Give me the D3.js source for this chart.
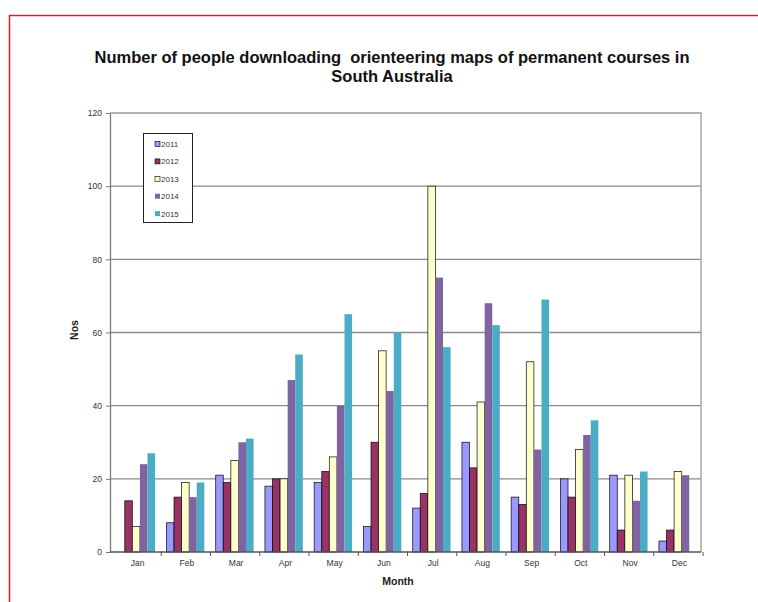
<!DOCTYPE html>
<html><head><meta charset="utf-8">
<script src="https://cdn.jsdelivr.net/npm/d3@7"></script>
<style>body{margin:0;background:#fff;} svg{display:block;}</style>
</head><body>
<svg id="c" width="758" height="602"></svg>
<script>
const months = ["Jan","Feb","Mar","Apr","May","Jun","Jul","Aug","Sep","Oct","Nov","Dec"];
const years = ["2011","2012","2013","2014","2015"];
const v2011 = [0, 8, 21, 18, 19, 7, 12, 30, 15, 20, 21, 3];
const v2012 = [14, 15, 19, 20, 22, 30, 16, 23, 13, 15, 6, 6];
const v2013 = [7, 19, 25, 20, 26, 55, 100, 41, 52, 28, 21, 22];
const v2014 = [24, 15, 30, 47, 40, 44, 75, 68, 28, 32, 14, 21];
const v2015 = [27, 19, 31, 54, 65, 60, 56, 62, 69, 36, 22, 0];
const yTicks = [0, 20, 40, 60, 80, 100, 120];
const seriesValues = [v2011, v2012, v2013, v2014, v2015];
const colors = ["#9999FF", "#993366", "#FFFFCC", "#8064A2", "#4BACC6"];
const strokes = ["#000", "#000", "#000", "none", "none"];

const svg = d3.select("#c");
const font = "Arial, 'Liberation Sans', sans-serif";

// red outer border
svg.append("rect").attr("x", 9.5).attr("y", 15.5).attr("width", 800).attr("height", 700)
  .attr("fill", "none").attr("stroke", "#e8191f").attr("stroke-width", 1.5);

const L = 110, R = 701, T = 113, B = 552;
const x = d3.scaleBand().domain(months).range([L, R]).paddingInner(0).paddingOuter(0);
const y = d3.scaleLinear().domain([0, 120]).range([B, T]);

// gridlines
svg.append("g").selectAll("line").data(yTicks.filter(d => d > 0 && d < 120)).join("line")
  .attr("x1", L).attr("x2", R).attr("y1", d => y(d)).attr("y2", d => y(d))
  .attr("stroke", "#8a8a8a").attr("stroke-width", 1.3);

// plot border top/right
svg.append("path").attr("d", `M${L},${T}H${R}V${B}`).attr("fill", "none")
  .attr("stroke", "#9a9a9a").attr("stroke-width", 1.3);

// bars
const bw = x.bandwidth() / 6.5;
years.forEach((yr, i) => {
  svg.append("g").selectAll("rect").data(seriesValues[i]).join("rect")
    .attr("x", (d, j) => x(months[j]) + bw * 0.75 + bw * i + 1.5)
    .attr("y", d => y(d))
    .attr("width", bw)
    .attr("height", d => B - y(d))
    .attr("fill", colors[i])
    .attr("stroke", d => d > 0 ? strokes[i] : "none")
    .attr("stroke-width", 0.8)
    .attr("stroke-opacity", 0.85);
});

// y axis
const ya = svg.append("g").attr("transform", `translate(${L},0)`)
  .call(d3.axisLeft(y).tickValues(yTicks).tickSize(4).tickSizeOuter(0));
ya.select(".domain").attr("stroke", "#7a7a7a").attr("stroke-width", 1.3);
ya.selectAll(".tick line").attr("stroke", "#7a7a7a");
ya.selectAll("text").attr("font-family", font).attr("font-size", 8.5).attr("fill", "#333").attr("dx", -1);

// x axis
const xa = svg.append("g").attr("transform", `translate(0,${B})`);
xa.append("line").attr("x1", L).attr("x2", R).attr("stroke", "#555").attr("stroke-width", 1.3);
xa.selectAll("line.tk").data(months.slice(1).concat(["end"])).join("line").attr("class", "tk")
  .attr("x1", (d, j) => L + x.step() * (j + 1) + 2).attr("x2", (d, j) => L + x.step() * (j + 1) + 2)
  .attr("y1", 0).attr("y2", 4).attr("stroke", "#555");
xa.selectAll("text").data(months).join("text")
  .attr("x", d => x(d) + x.bandwidth() / 2 + 3).attr("y", 14)
  .attr("text-anchor", "middle").attr("font-family", font).attr("font-size", 8.5).attr("fill", "#333")
  .text(d => d);

// axis titles
svg.append("text").attr("x", 398).attr("y", 585).attr("text-anchor", "middle")
  .attr("font-family", font).attr("font-size", 10.5).attr("font-weight", "bold").attr("fill", "#222").text("Month");
svg.append("text").attr("transform", "translate(78,330) rotate(-90)").attr("text-anchor", "middle")
  .attr("font-family", font).attr("font-size", 10.5).attr("font-weight", "bold").attr("fill", "#222").text("Nos");

// title
const title = svg.append("text").attr("text-anchor", "middle").attr("font-family", font)
  .attr("font-size", 16.5).attr("font-weight", "bold").attr("fill", "#111");
title.append("tspan").attr("x", 392).attr("y", 63).text("Number of people downloading  orienteering maps of permanent courses in").attr("xml:space","preserve");
title.append("tspan").attr("x", 392).attr("y", 82).text("South Australia");

// legend
const lg = svg.append("g");
lg.append("rect").attr("x", 143.5).attr("y", 133.5).attr("width", 49).attr("height", 89)
  .attr("fill", "#fff").attr("stroke", "#222").attr("stroke-width", 1);
years.forEach((yr, i) => {
  const cy = 144 + i * 17.4;
  lg.append("rect").attr("x", 155).attr("y", cy - 2.5).attr("width", 5).attr("height", 5)
    .attr("fill", colors[i]).attr("stroke", strokes[i] === "none" ? "none" : "#000").attr("stroke-width", 0.6);
  lg.append("text").attr("x", 161).attr("y", cy + 3).attr("font-family", font).attr("font-size", 8)
    .attr("fill", "#333").text(yr);
});
</script>
</body></html>
